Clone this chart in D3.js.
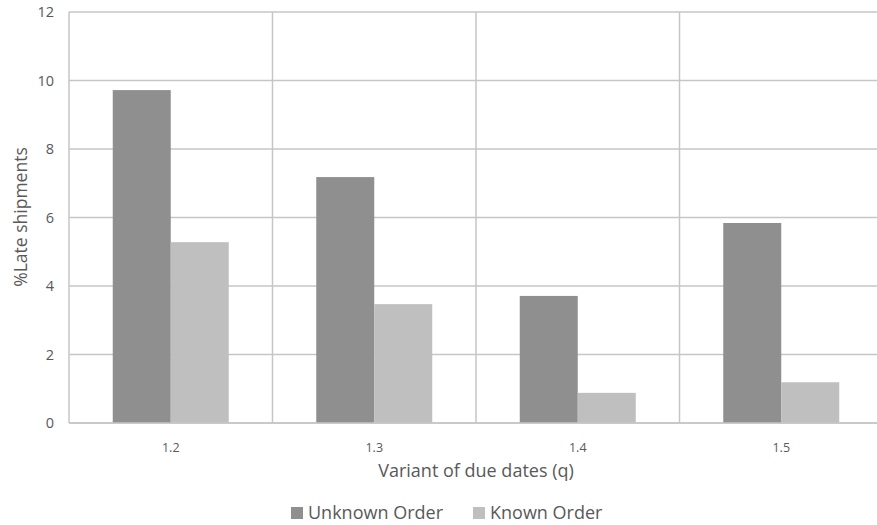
<!DOCTYPE html>
<html><head><meta charset="utf-8">
<script src="https://cdn.jsdelivr.net/npm/d3@7"></script>
<style>body{margin:0;background:#fff}svg{display:block}text{font-family:"Open Sans","Liberation Sans",sans-serif;fill:#595959}</style>
</head><body><svg id="c" width="877" height="525"></svg>
<script>
const categories = ["1.2","1.3","1.4","1.5"];
const seriesNames = ["Unknown Order","Known Order"];
const unknownOrder = [9.72, 7.18, 3.71, 5.84];
const knownOrder = [5.28, 3.47, 0.88, 1.19];
const yTicks = [0,2,4,6,8,10,12];
const colors = ["#8f8f8f","#bfbfbf"];

const svg = d3.select("#c");
const L=69, R=883, T=12, B=423;
const x = d3.scaleBand().domain(categories).range([L,R]).paddingInner(0).paddingOuter(0);
const y = d3.scaleLinear().domain([0,12]).range([B,T]);
const barW = 58;

svg.append("g").selectAll("line").data(yTicks).join("line")
  .attr("x1",L).attr("x2",R).attr("y1",d=>y(d)).attr("y2",d=>y(d))
  .attr("stroke","#c6c6c6").attr("stroke-width",1.5);
const vx = categories.map(c=>x(c)).concat([R]);
svg.append("g").selectAll("line").data(vx).join("line")
  .attr("x1",d=>d).attr("x2",d=>d).attr("y1",T).attr("y2",B)
  .attr("stroke","#c6c6c6").attr("stroke-width",1.5);

const data = [unknownOrder, knownOrder];
data.forEach((vals,si)=>{
  svg.append("g").selectAll("rect").data(vals).join("rect")
    .attr("x",(d,i)=>x(categories[i])+x.bandwidth()/2 - barW + si*barW)
    .attr("width",barW)
    .attr("y",d=>y(d)).attr("height",d=>B-y(d))
    .attr("fill",colors[si]);
});
svg.append("line").attr("x1",L).attr("x2",R).attr("y1",B).attr("y2",B).attr("stroke","#c6c6c6").attr("stroke-width",1.5);

svg.append("g").selectAll("text").data(yTicks).join("text")
  .attr("x",54).attr("y",d=>y(d)+5).attr("text-anchor","end")
  .attr("font-size",14.5).text(d=>d);
svg.append("g").selectAll("text").data(categories).join("text")
  .attr("x",d=>x(d)+x.bandwidth()/2).attr("y",452).attr("text-anchor","middle")
  .attr("font-size",12.5).text(d=>d);

svg.append("text").attr("x",476).attr("y",477).attr("text-anchor","middle")
  .attr("font-size",18).text("Variant of due dates (q)");
svg.append("text").attr("transform","translate(27,217) rotate(-90)").attr("text-anchor","middle")
  .attr("font-size",17.5).text("%Late shipments");

const lg = svg.append("g");
const lx = [291, 473];
seriesNames.forEach((n,i)=>{
  lg.append("rect").attr("x",lx[i]).attr("y",507).attr("width",12).attr("height",12).attr("fill",colors[i]);
  lg.append("text").attr("x",lx[i]+17).attr("y",519).attr("font-size",18).text(n);
});
</script></body></html>
